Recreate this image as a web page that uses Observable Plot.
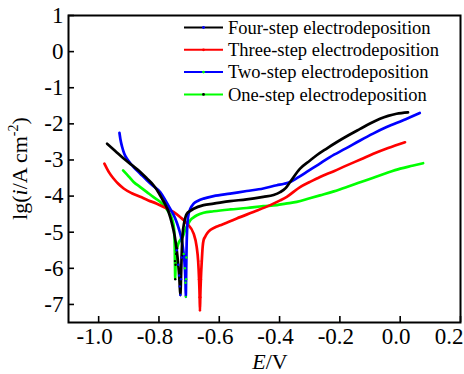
<!DOCTYPE html>
<html><head><meta charset="utf-8">
<script src="https://cdn.jsdelivr.net/npm/d3@7"></script>
<script src="https://cdn.jsdelivr.net/npm/@observablehq/plot@0.6"></script>
<style>body{margin:0;background:#fff}</style>
</head><body><div id="chart"></div>
<script>
// Potential E (V) and lg(i / A cm^-2)
const fourE = [-0.972,-0.945,-0.917,-0.890,-0.862,-0.840,-0.818,-0.800,-0.790,-0.778,-0.768,-0.757,-0.748,-0.741,-0.736,-0.733,-0.731,-0.729,-0.727,-0.725,-0.722,-0.716,-0.707,-0.696,-0.685,-0.652,-0.619,-0.564,-0.509,-0.454,-0.420,-0.398,-0.380,-0.365,-0.332,-0.300,-0.277,-0.245,-0.211,-0.170,-0.133,-0.100,-0.067,-0.040,-0.012,0.026];
const fourI = [-2.55,-2.75,-2.96,-3.14,-3.33,-3.51,-3.70,-3.92,-4.07,-4.25,-4.44,-4.76,-5.10,-5.50,-5.90,-6.20,-6.50,-6.74,-6.30,-5.70,-5.10,-4.72,-4.48,-4.41,-4.35,-4.25,-4.21,-4.14,-4.09,-4.02,-3.97,-3.89,-3.78,-3.61,-3.24,-3.02,-2.87,-2.69,-2.51,-2.31,-2.14,-1.99,-1.86,-1.78,-1.72,-1.68];

const threeE = [-0.981,-0.973,-0.965,-0.950,-0.935,-0.917,-0.890,-0.862,-0.835,-0.807,-0.780,-0.752,-0.730,-0.707,-0.685,-0.675,-0.670,-0.667,-0.665,-0.664,-0.663,-0.661,-0.658,-0.655,-0.652,-0.647,-0.640,-0.630,-0.615,-0.597,-0.570,-0.542,-0.487,-0.431,-0.398,-0.376,-0.332,-0.300,-0.266,-0.220,-0.177,-0.130,-0.089,-0.040,0.016];
const threeI = [-3.10,-3.23,-3.35,-3.52,-3.66,-3.79,-3.92,-4.02,-4.12,-4.21,-4.32,-4.44,-4.58,-4.76,-5.04,-5.40,-5.80,-6.30,-6.80,-7.16,-6.80,-6.30,-5.80,-5.40,-5.22,-5.13,-5.03,-4.94,-4.87,-4.81,-4.72,-4.62,-4.44,-4.25,-4.12,-4.02,-3.75,-3.61,-3.47,-3.31,-3.15,-2.98,-2.83,-2.67,-2.51];

const twoE = [-0.931,-0.928,-0.922,-0.915,-0.905,-0.895,-0.884,-0.862,-0.840,-0.818,-0.796,-0.780,-0.763,-0.746,-0.735,-0.725,-0.718,-0.714,-0.712,-0.711,-0.710,-0.709,-0.707,-0.703,-0.696,-0.685,-0.670,-0.652,-0.619,-0.564,-0.509,-0.454,-0.409,-0.385,-0.365,-0.340,-0.310,-0.270,-0.233,-0.180,-0.133,-0.090,-0.045,0.010,0.065];
const twoI = [-2.25,-2.42,-2.64,-2.83,-2.98,-3.09,-3.20,-3.38,-3.56,-3.73,-3.89,-4.10,-4.35,-4.62,-4.88,-5.20,-5.60,-6.00,-6.40,-6.79,-6.30,-5.70,-5.00,-4.55,-4.35,-4.21,-4.13,-4.07,-4.00,-3.93,-3.86,-3.79,-3.70,-3.66,-3.61,-3.49,-3.33,-3.12,-2.92,-2.68,-2.46,-2.27,-2.09,-1.90,-1.70];

const oneE = [-0.919,-0.900,-0.884,-0.862,-0.840,-0.818,-0.796,-0.780,-0.768,-0.757,-0.750,-0.748,-0.747,-0.746,-0.745,-0.743,-0.740,-0.735,-0.728,-0.720,-0.713,-0.705,-0.696,-0.685,-0.674,-0.652,-0.619,-0.564,-0.509,-0.454,-0.409,-0.380,-0.343,-0.300,-0.266,-0.220,-0.177,-0.130,-0.089,-0.045,0.000,0.040,0.076];
const oneI = [-3.29,-3.46,-3.61,-3.75,-3.89,-4.03,-4.16,-4.30,-4.44,-4.62,-4.90,-5.30,-5.80,-6.30,-5.90,-5.60,-5.45,-5.30,-5.20,-5.10,-4.94,-4.80,-4.67,-4.59,-4.53,-4.46,-4.42,-4.37,-4.33,-4.28,-4.25,-4.21,-4.16,-4.06,-3.98,-3.87,-3.75,-3.61,-3.49,-3.36,-3.24,-3.16,-3.09];

const seriesNames = ["Four-step electrodeposition","Three-step electrodeposition","Two-step electrodeposition","One-step electrodeposition"];
const lineColors = ["#000000","#ff0000","#0000ff","#00ff00"];
const markerColors = ["#0000ff","#ff0000","#00ff00","#000000"];
const xTicks = [-1.0,-0.8,-0.6,-0.4,-0.2,0.0,0.2];
const yTicks = [-7,-6,-5,-4,-3,-2,-1,0,1];

const seriesE = [fourE, threeE, twoE, oneE];
const seriesI = [fourI, threeI, twoI, oneI];
const drawOrder = [3, 1, 2, 0];
const rows = [];
for (const k of drawOrder) {
  seriesE[k].forEach((e, j) => rows.push({E: e, I: seriesI[k][j], s: seriesNames[k], line: lineColors[k], marker: markerColors[k]}));
}

const W = 464, H = 374, mL = 68, mR = 4, mT = 15, mB = 52;
const font = "'Liberation Serif','Times New Roman',serif";
const fmtX = d => d.toFixed(1);

const chart = Plot.plot({
  width: W, height: H,
  marginLeft: mL, marginRight: mR, marginTop: mT, marginBottom: mB,
  style: {fontFamily: font, fontSize: "23px", color: "#000", background: "#fff", overflow: "visible"},
  x: {domain: [-1.1, 0.2]},
  y: {domain: [-7.5, 1]},
  color: {type: "identity"},
  marks: [
    Plot.axisX(xTicks.slice(0, -1), {tickSize: 0, tickPadding: 5, dx: -4, tickFormat: fmtX, label: null, fontSize: 23}),
    Plot.axisX(xTicks.slice(-1), {tickSize: 0, tickPadding: 5, dx: 3, textAnchor: "end", tickFormat: fmtX, label: null, fontSize: 23}),
    Plot.axisY(yTicks, {tickSize: 0, tickPadding: 5, tickFormat: d => String(d), label: null, fontSize: 23}),
    Plot.tickX(xTicks, {x: d => d, insetTop: H - mT - mB - 6, stroke: "#000", strokeWidth: 1.6}),
    Plot.tickY(yTicks, {y: d => d, insetRight: W - mL - mR - 6, stroke: "#000", strokeWidth: 1.6}),
    Plot.line(rows, {x: "E", y: "I", z: "s", stroke: "line", strokeWidth: 2.7, curve: "monotone-x"}),
    Plot.dot(rows.filter(d => d.I < -5.4), {x: "E", y: "I", r: 1.2, fill: "marker", stroke: "none"}),
    Plot.frame({stroke: "#000", strokeWidth: 2})
  ]
});
document.getElementById("chart").appendChild(chart);

const svg = d3.select(chart);
// legend
const lg = svg.append("g").attr("font-family", font).attr("font-size", 18.5).attr("fill", "#000").attr("text-anchor", "start");
seriesNames.forEach((name, i) => {
  const y = 27.5 + i * 22.3;
  lg.append("line").attr("x1", 184).attr("x2", 223).attr("y1", y).attr("y2", y)
    .attr("stroke", lineColors[i]).attr("stroke-width", 2);
  lg.append("circle").attr("cx", 203.5).attr("cy", y).attr("r", 1.4).attr("fill", markerColors[i]);
  lg.append("text").attr("x", 228).attr("y", y).attr("dy", "0.33em").attr("text-anchor", "start").text(name);
});
// y-axis label
const yl = svg.append("text").attr("font-family", font).attr("font-size", 22).attr("fill", "#000")
  .attr("text-anchor", "middle").attr("transform", `translate(27,${(mT + H - mB) / 2}) rotate(-90)`);
yl.append("tspan").text("lg(");
yl.append("tspan").attr("font-style", "italic").text("i");
yl.append("tspan").text("/A cm");
yl.append("tspan").attr("font-size", 14).attr("dy", -9).text("-2");
yl.append("tspan").attr("dy", 9).text(")");
// x-axis label
const xl = svg.append("text").attr("font-family", font).attr("font-size", 22).attr("fill", "#000")
  .attr("text-anchor", "middle").attr("x", 270).attr("y", 369);
xl.append("tspan").attr("font-style", "italic").text("E");
xl.append("tspan").text("/V");
</script>
</body></html>
